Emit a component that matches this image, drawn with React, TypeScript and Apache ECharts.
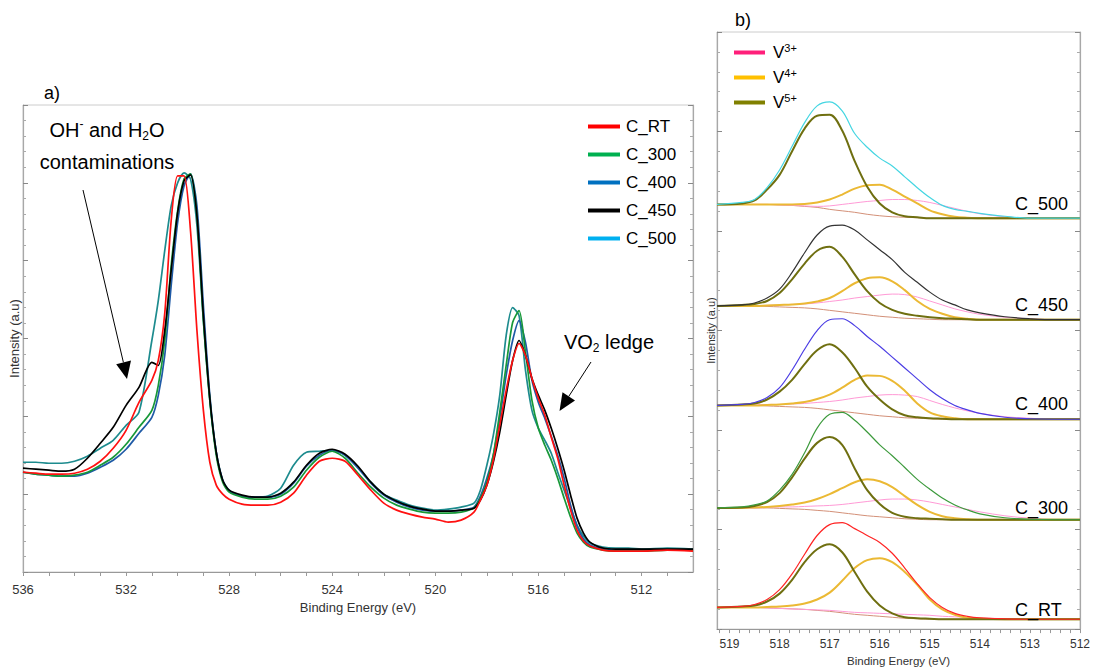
import React, { useEffect, useRef } from 'react';
import * as echarts from 'echarts';

// ---------- Panel a: O 1s / V 2p survey (binding energy, eV) ----------
const energyA = [536, 535.5, 535, 534.5, 534, 533.5, 533, 532.5, 532, 531.5, 531, 530.75, 530.5, 530.25, 530, 529.75, 529.5, 529.25, 529, 528.75, 528.5, 528.25, 528, 527.5, 527, 526.5, 526, 525.5, 525, 524.5, 524, 523.5, 523, 522.5, 522, 521.5, 521, 520.5, 520, 519.5, 519, 518.5, 518.25, 518, 517.75, 517.5, 517.25, 517, 516.75, 516.5, 516.25, 516, 515.75, 515.5, 515.25, 515, 514.75, 514.5, 514.25, 514, 513.5, 513, 512.5, 512, 511, 510];
const cRT = [100, 99, 98, 98, 99, 103, 111, 124, 142, 170, 192, 212, 259, 352, 397, 397, 342, 242, 162, 110, 87, 78, 73, 68, 67, 67, 70, 79, 97, 111, 114, 111, 97, 82, 69, 62, 58, 55, 53, 50, 52, 60, 72, 87, 112, 147, 182, 212, 229, 217, 194, 174, 157, 135, 114, 87, 62, 42, 31, 26, 22, 21, 21, 21, 22, 21];
const c300 = [100, 98, 97, 96, 97, 100, 107, 115, 128, 145, 162, 187, 232, 307, 362, 394, 399, 357, 252, 172, 117, 90, 80, 75, 73, 73, 76, 85, 102, 115, 121, 114, 99, 85, 74, 67, 63, 60, 59, 59, 60, 64, 74, 90, 117, 160, 207, 250, 262, 220, 172, 144, 127, 112, 94, 74, 55, 39, 30, 25, 22, 21, 21, 21, 22, 22];
const c400 = [100, 98, 97, 96, 96, 99, 105, 112, 123, 139, 155, 177, 217, 287, 350, 387, 399, 367, 267, 177, 120, 92, 81, 76, 75, 75, 78, 89, 106, 117, 122, 117, 104, 89, 77, 70, 65, 62, 61, 61, 62, 65, 76, 94, 117, 154, 197, 232, 252, 230, 192, 170, 154, 136, 117, 94, 67, 46, 33, 27, 23, 22, 22, 22, 22, 22];
const c450 = [104, 103, 102, 101, 103, 114, 129, 145, 167, 185, 210, 207, 242, 302, 360, 392, 398, 357, 257, 174, 120, 92, 82, 77, 75, 75, 79, 90, 107, 119, 123, 118, 106, 90, 78, 71, 66, 63, 61, 61, 62, 64, 72, 87, 110, 140, 177, 212, 232, 217, 194, 177, 162, 144, 124, 102, 77, 54, 39, 30, 24, 23, 23, 23, 23, 23];
const c500 = [110, 110, 109, 109, 111, 116, 124, 132, 147, 160, 232, 272, 322, 367, 390, 400, 394, 347, 252, 172, 120, 92, 82, 76, 75, 76, 84, 107, 120, 121, 122, 117, 105, 90, 78, 72, 67, 64, 62, 63, 65, 69, 82, 107, 137, 177, 237, 265, 257, 202, 162, 144, 132, 119, 100, 82, 64, 47, 36, 29, 25, 24, 24, 23, 24, 23];
const tickLabelsA = [512, 516, 520, 524, 528, 532, 536];
const tickMarksA = [511, 512, 513, 514, 515, 516, 517, 518, 519, 520, 521, 522, 523, 524, 525, 526, 527, 528, 529, 530, 531, 532, 533, 534, 535, 536];

// ---------- Panel b: V 2p3/2 fits ----------
const energyB = [519.25, 518.75, 518.5, 518.25, 518, 517.75, 517.5, 517.25, 517, 516.75, 516.5, 516.25, 516, 515.75, 515.5, 515.25, 515, 514.75, 514.5, 514.25, 514, 513.5, 513, 512.5, 512];
const tickLabelsB = [512, 513, 514, 515, 516, 517, 518, 519];
const tickMarksB = [512, 512.2, 512.4, 512.6, 512.8, 513, 513.2, 513.4, 513.6, 513.8, 514, 514.2, 514.4, 514.6, 514.8, 515, 515.2, 515.4, 515.6, 515.8, 516, 516.2, 516.4, 516.6, 516.8, 517, 517.2, 517.4, 517.6, 517.8, 518, 518.2, 518.4, 518.6, 518.8, 519, 519.2];

const f500Env = [431, 433, 436, 448, 466, 490, 514, 531, 535, 526, 503, 489, 478, 470, 459, 448, 438, 430, 426, 424, 422, 419, 417, 417, 417];
const f500V5 = [431, 432, 435, 446, 461, 485, 508, 521, 522, 506, 475, 449, 432, 423, 419, 418, 417, 417, 417, 417, 417, 417, 417, 417, 417];
const f500V4 = [431, 431, 431, 431, 431, 431, 431.5, 433, 436, 441, 447, 450.5, 451, 446, 439, 432, 425, 421, 418.5, 417.5, 417, 417, 417, 417, 417];
const f500V3 = [431, 431, 431, 431, 430.5, 430, 429.5, 429, 429.5, 431, 432.5, 434, 435, 436, 436, 435, 433, 430, 427, 424, 421.5, 418.5, 417, 417, 417];
const f500Bg = [431, 431, 431, 431, 430.5, 430, 429, 428, 426, 424.5, 423, 421, 419.5, 418.5, 418, 417.5, 417, 417, 417, 417, 417, 417, 417, 417, 417];

const f450Env = [328, 329, 331, 336, 345, 362, 382, 400, 409, 410, 405, 395, 385, 375, 362, 352, 342, 334, 329, 324, 321, 317, 315, 314, 314];
const f450V5 = [328, 329, 330, 333, 341, 355, 371, 384, 388, 378, 360, 343, 331, 324, 320, 318, 316.5, 315.5, 315, 314.5, 314, 314, 314, 314, 314];
const f450V4 = [328, 328, 328, 328.5, 329, 329.5, 330.5, 332.5, 336, 343, 351, 356, 357, 353, 344, 333, 325, 320, 316.5, 315, 314, 314, 314, 314, 314];
const f450V3 = [328, 328, 328, 328.5, 329, 329.5, 330, 331, 332.5, 334, 336, 337.5, 339, 340, 339.5, 337, 333, 329, 325, 322, 319.5, 316.5, 315, 314, 314];
const f450Bg = [328, 328, 328, 327.5, 327, 326.5, 326, 325, 323.5, 322, 320.5, 319, 317.5, 316.5, 315.5, 315, 314.5, 314, 314, 314, 314, 314, 314, 314, 314];

const f400Env = [227, 228, 230, 235, 245, 263, 284, 303, 314, 315, 308, 297, 287, 276, 265, 254, 243, 234, 227, 222.5, 219, 215, 213.5, 213, 213];
const f400V5 = [227, 228, 229, 233, 241, 253, 269, 283, 289, 281, 265, 246, 233, 223, 217, 215, 214, 213.5, 213, 213, 213, 213, 213, 213, 213];
const f400V4 = [227, 227, 227, 227.5, 228, 229, 230.5, 233.5, 238, 245, 253, 257.5, 257, 252, 242, 229, 220, 216, 214, 213, 213, 213, 213, 213, 213];
const f400V3 = [227, 227, 227.5, 228, 228, 228.5, 229, 230, 231, 232.5, 234.5, 236, 237.5, 238, 237.5, 236, 232, 228, 224.5, 221.5, 219, 215.5, 214, 213, 213];
const f400Bg = [227, 227, 227, 226.5, 226, 225.5, 225, 224, 222.5, 221, 219.5, 218, 216.5, 215.5, 214.5, 214, 213.5, 213, 213, 213, 213, 213, 213, 213, 213];

const f300Env = [123, 124, 126, 130, 141, 157, 179, 204, 218, 220, 212, 200, 187, 176, 164, 152, 142, 133, 126, 121, 117, 113, 111.5, 111, 111];
const f300V5 = [123, 123.5, 125, 129, 138, 154, 173, 189, 195, 187, 163, 141, 127, 118, 114, 112.5, 112, 111.5, 111, 111, 111, 111, 111, 111, 111];
const f300V4 = [123, 123, 123.5, 124, 125, 126.5, 128.5, 132, 137, 143, 149, 152, 150, 144, 135, 126, 119, 114.5, 112.5, 111.5, 111, 111, 111, 111, 111];
const f300V3 = [123, 123, 123, 123.5, 124, 124, 124.5, 125, 125.5, 126.5, 128, 129.5, 131, 132, 132, 131, 129, 126.5, 124, 121.5, 119, 115, 112.5, 111, 111];
const f300Bg = [123, 123, 123, 123, 122.5, 122, 121.5, 120.5, 119.5, 118, 116.5, 115, 114, 113, 112, 111.5, 111, 111, 111, 111, 111, 111, 111, 111, 111];

const fRTEnv = [22, 23, 25, 30, 40, 56, 76, 95, 106, 108, 102, 95, 88, 77, 62, 46, 32, 22, 16, 13, 11.5, 10.5, 10, 10, 10];
const fRTV5 = [22, 23, 24, 28, 36, 50, 68, 81, 86, 78, 58, 38, 24, 16, 12, 11, 10.5, 10, 10, 10, 10, 10, 10, 10, 10];
const fRTV4 = [22, 22, 22, 22.5, 23, 24, 26, 30, 37, 49, 62, 70, 72, 68, 58, 45, 30, 20, 14.5, 11.5, 10.5, 10, 10, 10, 10];
const fRTV3 = [22, 22, 22, 21.5, 21, 20.5, 20, 19.5, 19, 18, 17, 16.5, 16, 15.5, 15, 14.5, 14, 13, 12.5, 12, 11.5, 10.5, 10, 10, 10];
const fRTBg = [22, 22, 22, 21.5, 21, 20.5, 20, 19, 18, 16.5, 15, 14, 13, 12, 11, 10.5, 10, 10, 10, 10, 10, 10, 10, 10, 10];

const FONT = '"Liberation Sans", Arial, Helvetica, sans-serif';

const samplesA = [
  { name: 'C_500', data: c500, line: '#1d8b8e', legend: '#00b0f0' },
  { name: 'C_400', data: c400, line: '#1f5aa6', legend: '#0070c0' },
  { name: 'C_300', data: c300, line: '#179838', legend: '#00b050' },
  { name: 'C_450', data: c450, line: '#000000', legend: '#000000' },
  { name: 'C_RT', data: cRT, line: '#ff1010', legend: '#ff0000' },
];
const legendOrderA = ['C_RT', 'C_300', 'C_400', 'C_450', 'C_500'];

const fits = [
  { label: 'C_500', env: f500Env, v5: f500V5, v4: f500V4, v3: f500V3, bg: f500Bg, color: '#45d6e2', labelY: 204 },
  { label: 'C_450', env: f450Env, v5: f450V5, v4: f450V4, v3: f450V3, bg: f450Bg, color: '#333333', labelY: 305 },
  { label: 'C_400', env: f400Env, v5: f400V5, v4: f400V4, v3: f400V3, bg: f400Bg, color: '#4b3de4', labelY: 404 },
  { label: 'C_300', env: f300Env, v5: f300V5, v4: f300V4, v3: f300V3, bg: f300Bg, color: '#3c9a3c', labelY: 508 },
  { label: 'C_RT', env: fRTEnv, v5: fRTV5, v4: fRTV4, v3: fRTV3, bg: fRTBg, color: '#ff2424', labelY: 610 },
];

const pairs = (xs: number[], ys: number[]) => xs.map((x, i) => [x, ys[i]]);

function buildOption(): any {
  const series: any[] = [];
  samplesA.forEach((s) => {
    series.push({
      type: 'line',
      name: s.name,
      xAxisIndex: 0,
      yAxisIndex: 0,
      data: pairs(energyA, s.data),
      showSymbol: false,
      symbol: 'none',
      smooth: 0.25,
      lineStyle: { color: s.line, width: 1.7 },
      itemStyle: { color: s.legend },
    });
  });

  fits.forEach((f) => {
    const common = { type: 'line', xAxisIndex: 1, yAxisIndex: 2, showSymbol: false, symbol: 'none', smooth: 0.35 };
    series.push({ ...common, name: 'Background', data: pairs(energyB, f.bg), lineStyle: { color: '#d39078', width: 1 }, itemStyle: { color: '#d39078' } });
    series.push({ ...common, name: 'V3+', data: pairs(energyB, f.v3), lineStyle: { color: '#ff9ad6', width: 1 }, itemStyle: { color: '#ff1f7a' } });
    series.push({ ...common, name: 'V4+', data: pairs(energyB, f.v4), lineStyle: { color: '#ebb934', width: 2 }, itemStyle: { color: '#ffc000' } });
    series.push({ ...common, name: 'V5+', data: pairs(energyB, f.v5), lineStyle: { color: '#6f6f10', width: 2 }, itemStyle: { color: '#808000' } });
    series.push({ ...common, name: f.label + ' envelope', data: pairs(energyB, f.env), lineStyle: { color: f.color, width: 1.2 }, itemStyle: { color: f.color } });
  });

  const axisGray = '#a8a8a8';
  const graphic: any[] = [
    { type: 'text', x: 44, y: 93, z: 100, style: { text: 'a)', fontSize: 18, fontFamily: FONT, fill: '#000', verticalAlign: 'middle' } },
    { type: 'text', x: 735, y: 20, z: 100, style: { text: 'b)', fontSize: 18, fontFamily: FONT, fill: '#000', verticalAlign: 'middle' } },
    {
      type: 'text', x: 107, y: 130, z: 100,
      style: {
        text: '{n|OH}{sup|-}{n| and H}{sub|2}{n|O}', align: 'center', verticalAlign: 'middle', fill: '#000', fontFamily: FONT,
        rich: {
          n: { fontSize: 20, lineHeight: 24, fontFamily: FONT, fill: '#000' },
          sup: { fontSize: 12, lineHeight: 12, verticalAlign: 'top', fontFamily: FONT, fill: '#000' },
          sub: { fontSize: 12, lineHeight: 12, verticalAlign: 'bottom', fontFamily: FONT, fill: '#000' },
        },
      },
    },
    { type: 'text', x: 107, y: 162, z: 100, style: { text: 'contaminations', fontSize: 20, fontFamily: FONT, fill: '#000', align: 'center', verticalAlign: 'middle' } },
    { type: 'line', z: 100, shape: { x1: 83, y1: 190, x2: 123.4, y2: 362.4 }, style: { stroke: '#000', lineWidth: 1 } },
    { type: 'polygon', z: 100, shape: { points: [[127, 379], [131, 360.6], [116.2, 364.2]] }, style: { fill: '#000' } },
    {
      type: 'text', x: 609, y: 342, z: 100,
      style: {
        text: '{n|VO}{sub|2}{n| ledge}', align: 'center', verticalAlign: 'middle', fill: '#000', fontFamily: FONT,
        rich: {
          n: { fontSize: 20, lineHeight: 24, fontFamily: FONT, fill: '#000' },
          sub: { fontSize: 12, lineHeight: 12, verticalAlign: 'bottom', fontFamily: FONT, fill: '#000' },
        },
      },
    },
    { type: 'line', z: 100, shape: { x1: 591, y1: 362, x2: 568.7, y2: 396.5 }, style: { stroke: '#000', lineWidth: 1 } },
    { type: 'polygon', z: 100, shape: { points: [[559.5, 411], [575, 400.5], [562.5, 392.3]] }, style: { fill: '#000' } },
  ];
  fits.forEach((f) => {
    graphic.push({ type: 'text', x: 1015, y: f.labelY, z: 100, style: { text: f.label, fontSize: 18, fontFamily: FONT, fill: '#000', verticalAlign: 'middle' } });
  });

  const yCommon = (grid: number, max: number, interval: number, position: string) => ({
    type: 'value', gridIndex: grid, min: 0, max, interval, position,
    axisLine: { show: true, lineStyle: { color: axisGray, width: 1.2 } },
    axisTick: { show: true, inside: true, length: 5, lineStyle: { color: '#888' } },
    minorTick: { show: true, splitNumber: 5, length: 3, lineStyle: { color: '#aaa' } },
    axisLabel: { show: false },
    splitLine: { show: false },
    minorSplitLine: { show: false },
  });

  return {
    animation: false,
    backgroundColor: '#ffffff',
    textStyle: { fontFamily: FONT },
    grid: [
      { left: 22, right: 400, top: 105, bottom: 100, show: true, borderColor: '#cccccc', borderWidth: 1, containLabel: false },
      { left: 717, right: 11, top: 32, bottom: 34, show: true, borderColor: '#cccccc', borderWidth: 1, containLabel: false },
    ],
    legend: [
      {
        orient: 'vertical', left: 583, top: 113, itemWidth: 32, itemHeight: 4, itemGap: 11, icon: 'rect',
        selectedMode: false,
        textStyle: { fontSize: 17, color: '#000', fontFamily: FONT, lineHeight: 17, padding: [0, 0, 0, 1] },
        data: legendOrderA.map((n) => {
          const s = samplesA.find((x) => x.name === n)!;
          return { name: n, icon: 'rect', itemStyle: { color: s.legend, borderWidth: 0 } };
        }),
      },
      {
        orient: 'vertical', left: 729, top: 37, itemWidth: 31, itemHeight: 4, itemGap: 6, icon: 'rect',
        selectedMode: false,
        formatter: (name: string) => `{v|V}{s|${name.slice(1)}}`,
        textStyle: {
          fontFamily: FONT, color: '#000', padding: [0, 0, 0, 3],
          rich: {
            v: { fontSize: 17, lineHeight: 21, fontFamily: FONT, color: '#000' },
            s: { fontSize: 11, lineHeight: 12, verticalAlign: 'top', fontFamily: FONT, color: '#000' },
          },
        },
        data: [
          { name: 'V3+', icon: 'rect', itemStyle: { color: '#ff1f7a', borderWidth: 0 } },
          { name: 'V4+', icon: 'rect', itemStyle: { color: '#ffc000', borderWidth: 0 } },
          { name: 'V5+', icon: 'rect', itemStyle: { color: '#808000', borderWidth: 0 } },
        ],
      },
    ],
    xAxis: [
      {
        type: 'value', gridIndex: 0, min: 510, max: 536, inverse: true,
        axisLine: { show: true, lineStyle: { color: '#999', width: 1.2 } },
        axisTick: { show: true, customValues: tickMarksA, length: 4, lineStyle: { color: '#999' } },
        axisLabel: { customValues: tickLabelsA, margin: 11, fontSize: 13, color: '#333', fontFamily: FONT },
        splitLine: { show: false },
        name: 'Binding Energy (eV)', nameLocation: 'middle', nameGap: 25,
        nameTextStyle: { fontSize: 13, color: '#333', fontFamily: FONT },
      },
      {
        type: 'value', gridIndex: 1, min: 512, max: 519.25, inverse: true,
        axisLine: { show: true, lineStyle: { color: '#999', width: 1.2 } },
        axisTick: { show: true, customValues: tickMarksB, length: 4, lineStyle: { color: '#999' } },
        axisLabel: { customValues: tickLabelsB, margin: 9, fontSize: 12, color: '#333', fontFamily: FONT },
        splitLine: { show: false },
        name: 'Binding Energy (eV)', nameLocation: 'middle', nameGap: 21,
        nameTextStyle: { fontSize: 11.5, color: '#333', fontFamily: FONT },
      },
    ],
    yAxis: [
      { ...yCommon(0, 468, 78, 'left'), name: 'Intensity (a.u)', nameLocation: 'middle', nameGap: 2, nameTextStyle: { fontSize: 13, color: '#333', fontFamily: FONT } },
      { ...yCommon(0, 468, 78, 'right') },
      { ...yCommon(1, 606, 101, 'left'), name: 'Intensity (a.u)', nameLocation: 'middle', nameGap: 1, nameTextStyle: { fontSize: 11, color: '#333', fontFamily: FONT } },
      { ...yCommon(1, 606, 101, 'right') },
    ],
    graphic,
    series,
  };
}

export default function App() {
  const ref = useRef<HTMLDivElement>(null);
  useEffect(() => {
    document.body.style.margin = '0';
    if (!ref.current) return;
    const chart = echarts.init(ref.current, undefined, { renderer: 'svg' });
    chart.setOption(buildOption());
    return () => chart.dispose();
  }, []);
  return <div ref={ref} style={{ width: 1093, height: 672 }} />;
}
